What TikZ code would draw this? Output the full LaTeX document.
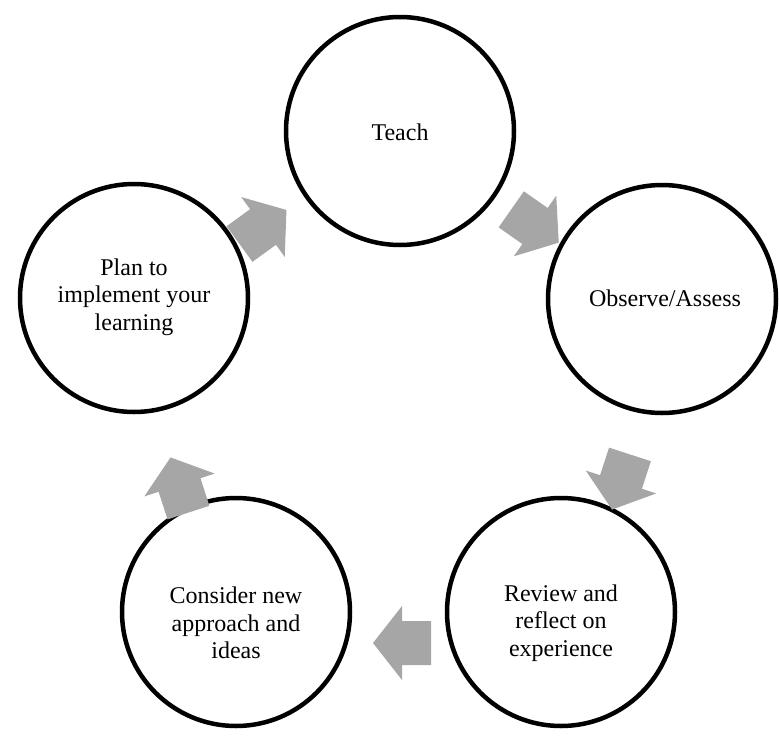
\documentclass[tikz,border=0pt]{standalone}
\usepackage{fontspec}
\setmainfont{Liberation Serif}
\definecolor{arrowgray}{HTML}{A6A6A6}
\begin{document}
\begin{tikzpicture}[x=1pt,y=-1pt,
  ringnode/.style={circle,draw=black,line width=4.5pt,minimum size=228pt,inner sep=0pt},
  txt/.style={align=center,font=\fontsize{24}{27.5}\selectfont,inner sep=0pt},
  blockarrow/.style={fill=arrowgray,draw=none}]
\useasboundingbox (0,0) rectangle (779,755);
% circles
\node[ringnode] (teach) at (400,131) {};
\node[ringnode] (observe) at (662,299) {};
\node[ringnode] (review) at (561,612) {};
\node[ringnode] (consider) at (236,612) {};
\node[ringnode] (plan) at (134,298) {};
% texts
\node[txt] (tteach) at (400,132) {Teach};
\node[txt] (tobserve) at (665,298) {Observe/Assess};
\node[txt] (treview) at (561,623) {Review and\\reflect on\\experience};
\node[txt] (tconsider) at (236,623) {Consider new\\approach and\\ideas};
\node[txt] (tplan) at (134,297) {Plan to\\implement your\\learning};
% block arrows
\foreach \cx/\cy/\ang in {263/227/36, 535/226/-35, 621/482/-108, 402/643/180, 179.5/485/108}{
  \fill[blockarrow,shift={(\cx,\cy)},rotate=\ang]
    (-29,-22) -- (0,-22) -- (0,-37) -- (29,0) -- (0,37) -- (0,22) -- (-29,22) -- cycle;
}
\end{tikzpicture}
\end{document}
